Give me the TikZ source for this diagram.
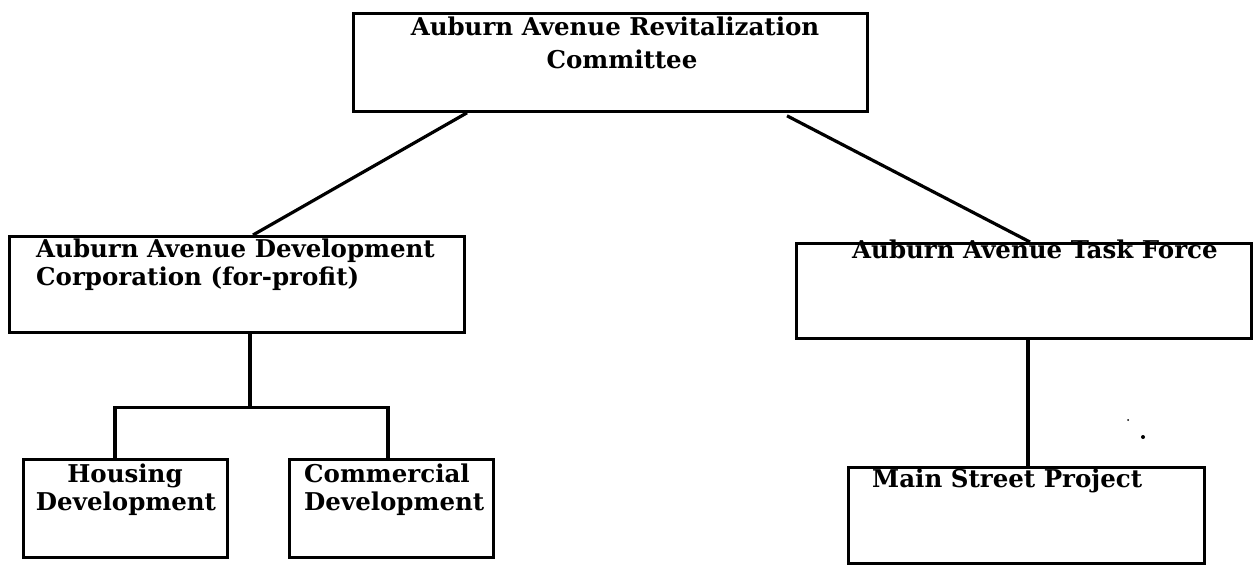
\documentclass[tikz,border=0pt]{standalone}
\usepackage{fontspec}
\setmainfont{DejaVu Serif}
\usetikzlibrary{calc}
\tikzset{
  box/.style={draw, line width=2.8pt, rectangle, inner sep=0pt, anchor=north west},
  lbl/.style={inner sep=0pt, font=\bfseries\fontsize{24.5}{29}\selectfont},
  lw/.style={lbl, anchor=base west},
  lc/.style={lbl, anchor=base},
  conn/.style={line width=3.2pt},
  speck/.style={fill, circle, inner sep=0pt},
}
\begin{document}
\begin{tikzpicture}[x=1pt,y=-1pt]
\useasboundingbox (0,0) rectangle (1257,565);
% boxes
\node[box, minimum width=514pt, minimum height=98pt] (top) at (352,12) {};
\node[box, minimum width=455pt, minimum height=96pt] (adc) at (8,235) {};
\node[box, minimum width=455pt, minimum height=95pt] (tf) at (795,242) {};
\node[box, minimum width=204pt, minimum height=98pt] (hous) at (22,458) {};
\node[box, minimum width=204pt, minimum height=98pt] (comm) at (288,458) {};
\node[box, minimum width=356pt, minimum height=96pt] (main) at (847,466) {};
% texts
\node[lc] (t1) at (615,35) {Auburn Avenue Revitalization};
\node[lc] (t2) at (622,68) {Committee};
\node[lw] (a1) at (36,257) {Auburn Avenue Development};
\node[lw] (a2) at (36,285) {Corporation (for-profit)};
\node[lw] (f1) at (852,258) {Auburn Avenue Task Force};
\node[lc] (h1) at (125,482) {Housing};
\node[lc] (h2) at (126,510) {Development};
\node[lw] (c1) at (304,482) {Commercial};
\node[lw] (c2) at (304,510) {Development};
\node[lw] (m1) at (872,487) {Main Street Project};
% connectors
\draw[conn] ($(top.south west)+(115,0)$) -- ($(adc.north west)+(245,0)$);
\draw[conn] ($(top.south west)+(435,3)$) -- ($(tf.north west)+(235,0)$);
\coordinate (fork) at ($(adc.south west)+(242,74)$);
\draw[conn] (adc.south west -| fork) -- (fork);
\draw[conn] (hous.north west -| 115,0) |- (fork);
\draw[conn] (comm.north west -| 388,0) |- (fork);
\draw[conn] (tf.south west -| 1028,0) -- (main.north west -| 1028,0);
% scan specks
\node[speck, minimum size=2pt] (s1) at (1128,420) {};
\node[speck, minimum size=4pt] (s2) at (1143,437) {};
\end{tikzpicture}
\end{document}
